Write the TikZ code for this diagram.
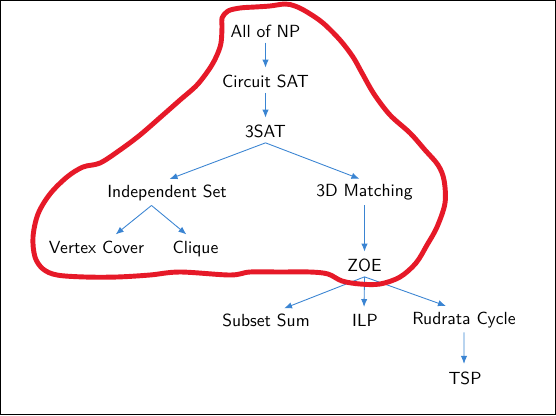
\documentclass[tikz,border=0pt]{standalone}
\usepackage{tikz}
\usetikzlibrary{arrows.meta}

\definecolor{edgeblue}{RGB}{58,132,210}
\definecolor{penred}{RGB}{230,25,40}

\begin{document}
\begin{tikzpicture}[
    prob/.style={anchor=base, inner sep=2.5pt, font=\sffamily},
    edge/.style={draw=edgeblue, line width=0.5pt, shorten >=1.6pt,
                 -{Latex[length=4.5pt,width=3.6pt]}}
  ]
  \useasboundingbox (0,0) rectangle (11.12,8.30);

  % --- outer frame ---
  \draw[line width=0.8pt] (0.014,0.014) rectangle (11.106,8.286);

  % --- problems (placed at their baselines) ---
  \node[prob] (np)      at (5.31,7.546) {All of NP};
  \node[prob] (csat)    at (5.31,6.546) {Circuit SAT};
  \node[prob] (sat3)    at (5.31,5.546) {3SAT};
  \node[prob] (indset)  at (3.34,4.354) {Independent Set};
  \node[prob] (match3d) at (7.29,4.366) {3D Matching};
  \node[prob] (vc)      at (1.93,3.234) {Vertex Cover};
  \node[prob] (clique)  at (3.91,3.234) {Clique};
  \node[prob] (zoe)     at (7.29,2.866) {ZOE};
  \node[prob] (subsum)  at (5.32,1.766) {Subset Sum};
  \node[prob] (ilp)     at (7.30,1.766) {ILP};
  \node[prob] (rudrata) at (9.28,1.820) {Rudrata Cycle};
  \node[prob] (tsp)     at (9.30,0.620) {TSP};

  % --- reductions (from/to, with small sideways offsets of the ends) ---
  \foreach \a/\b/\sx/\ex in {np/csat/0/0, csat/sat3/0/0, sat3/indset/0/0,
                             sat3/match3d/0/-0.05, indset/vc/-0.31/0.34,
                             indset/clique/-0.31/-0.14, match3d/zoe/0/0,
                             zoe/subsum/0/0.31, zoe/ilp/0/-0.02,
                             zoe/rudrata/0/-0.31, rudrata/tsp/0/-0.02} {
    \draw[edge] ([xshift=\sx cm]\a.south) -- ([xshift=\ex cm]\b.north);
  }

  % --- hand-drawn loop around the first part ---
  \draw[penred, line width=2.8pt, line join=round]
    plot[smooth cycle, tension=0.55] coordinates {
      (4.44,7.94) (4.56,8.08) (4.80,8.14) (5.10,8.16) (5.40,8.18)
      (5.70,8.22) (5.90,8.18) (6.14,8.06) (6.46,7.84) (6.80,7.50)
      (7.06,7.16) (7.24,6.84) (7.48,6.42) (7.80,6.00) (8.20,5.64)
      (8.50,5.30) (8.76,5.00) (8.88,4.70) (8.90,4.24) (8.74,3.76)
      (8.54,3.40) (8.32,3.04) (8.00,2.76) (7.60,2.62) (7.20,2.62)
      (6.84,2.68) (6.56,2.82) (6.20,2.86) (5.60,2.86) (5.00,2.86)
      (4.60,2.80) (3.60,2.86) (3.00,2.80) (2.34,2.76) (1.70,2.76)
      (1.14,2.80) (0.86,2.92) (0.70,3.16) (0.66,3.56) (0.76,4.02)
      (1.00,4.42) (1.34,4.76) (1.66,4.96) (2.00,5.04) (2.40,5.30)
      (2.80,5.60) (3.26,6.00) (3.60,6.30) (3.94,6.60) (4.20,6.94)
      (4.34,7.20) (4.42,7.44) (4.44,7.76)
    };
\end{tikzpicture}
\end{document}
